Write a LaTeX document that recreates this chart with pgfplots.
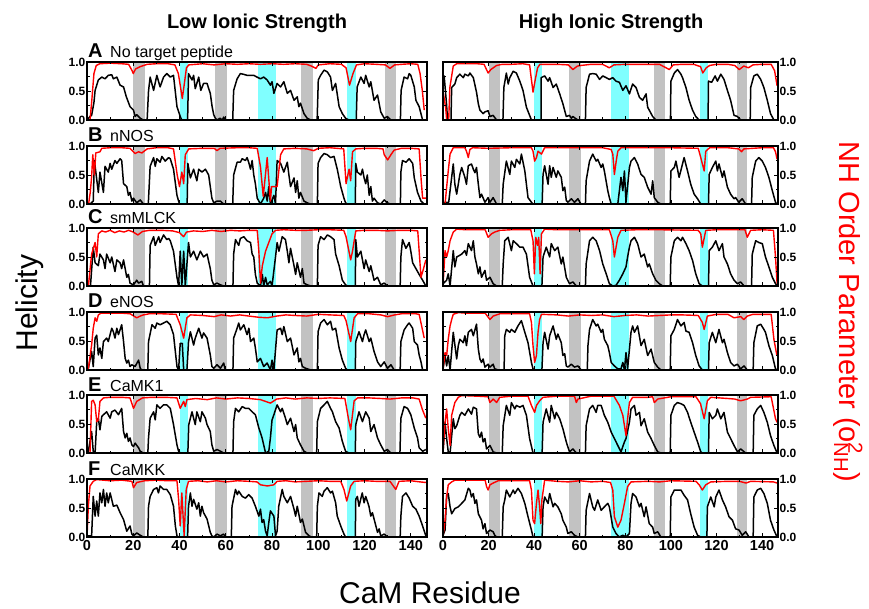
\documentclass[border=0pt]{standalone}
\usepackage{fontspec}
\setmainfont{Liberation Sans}
\usepackage{pgfplots}
\pgfplotsset{compat=1.18}
\definecolor{cyanband}{RGB}{128,255,255}
\definecolor{greyband}{RGB}{194,194,194}
\pgfplotsset{
 panel/.style={scale only axis, height=58pt, xmin=0, xmax=147, ymin=0, ymax=1,
   xtick={0,20,...,140}, minor xtick={10,30,...,130}, ytick={0,0.5,1}, minor ytick={0.25,0.75},
   tick align=inside, major tick length=4pt, minor tick length=2.5pt,
   tick style={black, line width=0.8pt},
   axis line style={line width=1.4pt},
   axis on top,
   /pgf/number format/assume math mode=true,
   yticklabel style={font=\bfseries\fontsize{12}{13}\selectfont, /pgf/number format/fixed, /pgf/number format/fixed zerofill, /pgf/number format/precision=1, inner sep=1.5pt},
   xticklabel style={font=\bfseries\fontsize{14.5}{15}\selectfont},
 },
 leftp/.style={panel, width=340pt, yticklabel pos=left},
 rightp/.style={panel, width=335pt, yticklabel pos=right},
 nox/.style={xticklabels={}},
 hel/.style={black, line width=1.5pt, no markers, line join=round},
 nh/.style={red, line width=1.4pt, no markers, line join=round},
}
\newcommand\bands{%
 \addplot[draw=none, fill=greyband, forget plot] coordinates {(20,0)(20,1)(25,1)(25,0)};
 \addplot[draw=none, fill=greyband, forget plot] coordinates {(55.5,0)(55.5,1)(60.5,1)(60.5,0)};
 \addplot[draw=none, fill=greyband, forget plot] coordinates {(92.5,0)(92.5,1)(97.5,1)(97.5,0)};
 \addplot[draw=none, fill=greyband, forget plot] coordinates {(129,0)(129,1)(133.5,1)(133.5,0)};
 \addplot[draw=none, fill=cyanband, forget plot] coordinates {(40,0)(40,1)(43.6,1)(43.6,0)};
 \addplot[draw=none, fill=cyanband, forget plot] coordinates {(73.8,0)(73.8,1)(81.6,1)(81.6,0)};
 \addplot[draw=none, fill=cyanband, forget plot] coordinates {(112.6,0)(112.6,1)(116.2,1)(116.2,0)};
}
\newcommand\plabel[3]{%
 \node[anchor=base west, inner sep=0pt, font=\bfseries\fontsize{20}{20}\selectfont] at (88pt,#1) {#2};
 \node[anchor=base west, inner sep=0pt, font=\fontsize{16}{16}\selectfont] at (110pt,#1) {#3};
}
\begin{document}
\begin{tikzpicture}
\path[use as bounding box] (0,0) rectangle (869pt,-609pt);
\node[anchor=base, font=\bfseries\fontsize{20}{20}\selectfont] at (257pt,-29pt) {Low Ionic Strength};
\node[anchor=base, font=\bfseries\fontsize{20}{20}\selectfont] at (611pt,-29pt) {High Ionic Strength};
\node[rotate=90, font=\fontsize{30}{30}\selectfont] at (30pt,-303pt) {Helicity};
\node[rotate=-90, text=red, font=\fontsize{29}{29}\selectfont] at (848pt,-312pt) {NH Order Parameter (o\rlap{\textsuperscript{2}}\textsubscript{NH})};
\node[anchor=base, font=\fontsize{30}{30}\selectfont] at (430pt,-603pt) {CaM Residue};
\plabel{-58pt}{A}{No target peptide}
\plabel{-142pt}{B}{nNOS}
\plabel{-224pt}{C}{smMLCK}
\plabel{-308pt}{D}{eNOS}
\plabel{-391pt}{E}{CaMK1}
\plabel{-475pt}{F}{CaMKK}

% ---------------- A left
\begin{axis}[leftp, nox, at={(87pt,-62pt)}, anchor=north west]
\bands
\addplot[hel] coordinates {(0,0)(1.3,0.06)(2,0.08)(3,0.3)(3.5,0.51)(4.9,0.69)(6.4,0.74)(7.8,0.71)(9.2,0.77)(10.7,0.78)(11.4,0.71)(12.9,0.74)(14.3,0.6)(15.8,0.57)(17,0.4)(18.6,0.23)(20.1,0.17)(20.8,0.06)(21.5,0.09)(23,0.03)(24.4,0)(26,0)(26.6,0.5)(27.3,0.74)(28.8,0.51)(30.2,0.77)(31.6,0.57)(33.1,0.74)(34.5,0.8)(36,0.74)(37.4,0.77)(38.9,0.23)(40.3,0.06)(41,0)(43.5,0)(43.9,0.8)(45.4,0.69)(46.1,0.77)(46.8,0.54)(48.3,0.74)(49.2,0.51)(50.4,0.63)(51.9,0.63)(53.3,0.46)(54.1,0.23)(54.8,0.09)(55.5,0.03)(56.2,0)(57.5,0.03)(58.5,0)(59.1,0.05)(60,0)(63,0)(63.4,0.51)(64.9,0.71)(66.3,0.8)(67.5,0.79)(69.2,0.77)(70.5,0.77)(72.1,0.77)(73.5,0.74)(75,0.71)(76.4,0.74)(77.9,0.69)(79.3,0.6)(80,0.66)(80.8,0.46)(82.2,0.63)(83.7,0.57)(85.1,0.66)(86.6,0.46)(88,0.51)(89.5,0.34)(90.9,0.4)(91.6,0.23)(92.3,0.29)(93.8,0.11)(95.2,0.03)(96.7,0)(99.5,0)(100,0.69)(101,0.77)(102.5,0.86)(103.9,0.83)(105.3,0.74)(106.1,0.51)(107.5,0.63)(109,0.23)(110.4,0.11)(111.8,0.03)(113.3,0)(116.4,0)(116.8,0.57)(118.4,0.74)(119.8,0.63)(120.5,0.77)(122,0.57)(122.7,0.66)(124.1,0.34)(125.6,0.43)(127,0.14)(128.5,0.03)(129.9,0.06)(131.4,0)(135.5,0)(135.8,0.51)(137.1,0.74)(138.6,0.71)(139.3,0.8)(140,0.77)(141.5,0.57)(142.2,0.34)(143.6,0.23)(145.1,0)(146.5,0)};
\addplot[nh] coordinates {(0,0)(1.3,0)(2,0.3)(3,0.8)(4,0.94)(5.5,0.97)(10,0.98)(15,0.97)(18,0.96)(19.5,0.85)(20,0.8)(21,0.88)(23,0.92)(26,0.96)(30,0.97)(35,0.97)(38,0.95)(39.5,0.8)(40.5,0.55)(41.2,0.37)(42,0.6)(43,0.9)(44,0.95)(50,0.97)(55,0.95)(60,0.97)(65,0.96)(70,0.97)(75,0.96)(80,0.97)(85,0.96)(90,0.97)(95,0.96)(97,0.93)(99,0.89)(100,0.95)(105,0.97)(110,0.96)(112,0.9)(113.5,0.6)(115,0.8)(116.5,0.95)(120,0.97)(125,0.96)(129,0.95)(131,0.89)(133,0.95)(136,0.96)(140,0.97)(143,0.96)(144,0.8)(145,0.5)(145.8,0.17)};
\end{axis}
% ---------------- A right
\begin{axis}[rightp, nox, at={(443pt,-62pt)}, anchor=north west]
\bands
\addplot[hel] coordinates {(0,0.75)(0.5,0.76)(1.5,0.3)(2,0)(3.5,0)(3.8,0.56)(5.2,0.62)(6,0.73)(7.4,0.79)(8.9,0.73)(9.6,0.79)(11.1,0.76)(11.8,0.81)(13.3,0.73)(14.7,0.48)(15.5,0.28)(16.2,0.17)(17.6,0.11)(18.4,0.14)(19.8,0.16)(20.6,0.06)(22,0.08)(23.5,0)(26.3,0)(26.7,0.56)(27.8,0.81)(28.6,0.62)(29.3,0.73)(30.8,0.84)(32.2,0.81)(33.7,0.67)(35.1,0.51)(36.6,0.22)(38,0.08)(38.8,0)(43,0)(43.1,0.73)(44.6,0.76)(46.1,0.67)(46.8,0.73)(48.3,0.56)(49.7,0.62)(51.2,0.45)(52.6,0.28)(54.1,0.06)(55.5,0.08)(56.3,0.03)(57,0.06)(58,0.03)(59.2,0)(62.5,0)(62.8,0.56)(64.3,0.79)(65.7,0.8)(67.2,0.79)(68.7,0.7)(70.1,0.76)(71.6,0.73)(73,0.7)(74.5,0.73)(75.9,0.67)(77.4,0.65)(78.9,0.51)(80.3,0.59)(81.8,0.45)(83.2,0.62)(84.7,0.56)(86.2,0.39)(87.6,0.34)(89.1,0.45)(89.8,0.22)(90.5,0.17)(92,0.06)(93.4,0)(99.8,0)(100,0.67)(101.5,0.81)(102.9,0.87)(104.4,0.79)(105.1,0.73)(106.6,0.56)(108,0.34)(109.5,0.17)(110.9,0.06)(112.4,0)(116.3,0)(116.5,0.67)(117.9,0.65)(119.4,0.76)(120.4,0.67)(121.9,0.79)(123.3,0.7)(124.8,0.51)(126.2,0.34)(127.7,0.08)(129.2,0.06)(130.6,0)(134.8,0)(135,0.56)(136.4,0.76)(137.9,0.79)(139.4,0.7)(140.8,0.56)(142.3,0.34)(143.7,0.11)(145.2,0)(146.5,0)};
\addplot[nh] coordinates {(0,0.5)(1.2,0.2)(1.6,0)(2.5,0)(3,0.56)(4.5,0.93)(6,0.97)(10,0.97)(15,0.97)(18,0.96)(19.8,0.81)(21,0.87)(23.5,0.94)(26,0.96)(30,0.96)(35,0.97)(38,0.95)(38.5,0.79)(39.5,0.48)(40.5,0.7)(41.5,0.9)(42.5,0.96)(50,0.96)(55,0.95)(57,0.87)(59,0.93)(60.5,0.94)(65,0.96)(70,0.96)(73,0.9)(75,0.95)(80,0.96)(85,0.96)(90,0.96)(95,0.96)(99.3,0.87)(101,0.95)(105,0.96)(110,0.96)(113,0.92)(114,0.81)(115.5,0.9)(117,0.94)(120,0.96)(125,0.96)(128,0.94)(130,0.87)(132,0.93)(134,0.9)(136,0.95)(140,0.96)(144,0.96)(145.5,0.85)(146.6,0.59)};
\end{axis}
% ---------------- B left
\begin{axis}[leftp, nox, at={(87pt,-146pt)}, anchor=north west]
\bands
\addplot[hel] coordinates {(0,0)(1.3,0)(2.7,0.05)(3.2,0.75)(4.9,0.2)(5.6,0.55)(7.1,0.2)(7.8,0.65)(9.2,0.55)(10,0.7)(10.7,0.6)(12.1,0.75)(12.9,0.7)(14.3,0.78)(15,0.75)(15.8,0.35)(17.2,0.3)(17.9,0.15)(18.6,0.2)(19.4,0.05)(20.1,0.1)(21.5,0.02)(23,0.07)(24.4,0)(26.5,0)(27.3,0.65)(28.8,0.8)(29.5,0.65)(30.2,0.78)(31.6,0.72)(32.4,0.82)(33.8,0.74)(35.3,0.8)(36,0.78)(37.4,0.6)(38.9,0.15)(39.6,0.05)(40,0)(43.3,0)(43.6,0.7)(44.7,0.45)(46.1,0.6)(47.5,0.4)(48.3,0.6)(49.7,0.55)(51.2,0.6)(52.6,0.5)(53.3,0.3)(54,0.1)(54.8,0.02)(56.2,0.05)(57.7,0.05)(59,0)(63,0)(63.4,0.5)(64.9,0.72)(66.3,0.72)(67.1,0.78)(68.5,0.75)(69.2,0.8)(69.9,0.72)(70.7,0.6)(71.4,0.75)(72.1,0.5)(72.8,0.35)(73.6,0.1)(75,0)(76.4,0.1)(77.2,0.2)(77.9,0.05)(78.6,0.3)(79.3,0)(80.8,0.15)(81.5,0)(82.2,0.75)(83.7,0.7)(85.1,0.55)(86.6,0.72)(87.3,0.5)(88,0.3)(89.5,0.45)(90.2,0.2)(90.9,0.4)(91.6,0.1)(92.3,0.2)(93.8,0.05)(95.2,0.02)(96.5,0)(99.6,0)(99.9,0.7)(101,0.8)(102.5,0.87)(103.9,0.85)(105.3,0.8)(106.8,0.82)(108.2,0.6)(109.7,0.3)(111.1,0.1)(111.8,0.02)(112.5,0)(116,0)(116.2,0.7)(116.9,0.55)(118.4,0.5)(119.1,0.6)(119.8,0.45)(120.5,0.35)(121.2,0.5)(122,0.15)(122.7,0.3)(123.4,0.05)(124.1,0.1)(125.6,0.02)(127,0)(128.5,0.07)(129.9,0.02)(131,0)(135.5,0)(135.7,0.55)(136.4,0.75)(137.9,0.72)(139.3,0.78)(140.8,0.7)(141.5,0.45)(142.9,0.2)(144.4,0.05)(145.8,0)(146.5,0)};
\addplot[nh] coordinates {(0,0)(0.7,0)(1.4,0.2)(2,0.47)(2.5,0.85)(3.2,0.5)(3.8,0.88)(5.6,0.9)(6.4,0.96)(10,0.97)(15,0.97)(18.6,0.96)(20.8,0.87)(22.3,0.9)(23.7,0.88)(26,0.95)(30,0.97)(35,0.97)(37.4,0.95)(39,0.5)(40,0.3)(41,0.55)(41.8,0.35)(42.5,0.85)(44,0.95)(50,0.96)(55,0.96)(56.2,0.92)(57.5,0.96)(65,0.97)(70,0.97)(73.6,0.96)(75,0.64)(76.2,0.13)(77.9,0.8)(79.3,0.05)(79.8,0.3)(82.2,0.3)(83.7,0.85)(85.1,0.95)(90,0.96)(95,0.95)(98,0.92)(100,0.96)(105,0.97)(111,0.95)(112,0.35)(113.3,0.6)(114,0.4)(114.8,0.9)(116.2,0.95)(120,0.96)(125,0.96)(128,0.95)(128.5,0.85)(130,0.76)(131.4,0.85)(132.8,0.93)(136,0.96)(140,0.96)(143.6,0.95)(144.5,0.4)(145.1,0.1)(146.5,0.1)};
\end{axis}
% ---------------- B right
\begin{axis}[rightp, nox, at={(443pt,-146pt)}, anchor=north west]
\bands
\addplot[hel] coordinates {(0,0)(0.9,0.03)(2.5,0.03)(3.1,0.23)(4.5,0.69)(5.2,0.34)(6,0.17)(7.4,0.51)(8.2,0.63)(9.6,0.46)(10.3,0.34)(11.1,0.66)(12.5,0.69)(13.3,0.6)(14,0.54)(14.7,0.63)(15.5,0.34)(16.2,0.11)(16.9,0.17)(18.4,0.03)(19.8,0.11)(20.6,0.03)(22,0.11)(23.5,0)(26,0)(26.4,0.34)(27.8,0.74)(29.3,0.51)(30,0.74)(31.5,0.63)(32.2,0.77)(33.7,0.69)(34.4,0.86)(35.9,0.57)(37.3,0.11)(38.8,0.03)(39.5,0)(43.5,0)(43.9,0.51)(44.6,0.66)(46.1,0.34)(46.8,0.66)(47.5,0.46)(48.3,0.63)(49.7,0.46)(50.4,0.57)(51.9,0.46)(52.6,0.23)(53.4,0.29)(54.1,0.06)(54.8,0.03)(56.3,0.09)(57.7,0.03)(59.2,0.09)(60.5,0)(62.5,0)(62.8,0.4)(64.3,0.74)(65.7,0.86)(67.2,0.74)(67.9,0.77)(69.4,0.63)(70.1,0.69)(70.8,0.57)(72.3,0.23)(73,0.11)(73.8,0)(76.7,0)(77.4,0.23)(78.1,0.46)(78.9,0.23)(79.6,0.57)(80.3,0.03)(81.8,0.63)(82.5,0.74)(84,0.8)(85.4,0.69)(86.9,0.51)(88.3,0.46)(89.8,0.29)(91.3,0.17)(92,0.4)(92.7,0.11)(94.2,0.03)(95.6,0)(99.7,0)(100,0.57)(101.5,0.63)(102.2,0.74)(103.6,0.46)(105.1,0.69)(105.8,0.8)(107.3,0.57)(108.7,0.34)(110.2,0.17)(111.7,0.09)(113.1,0)(116.5,0)(116.8,0.51)(118.2,0.63)(119.7,0.74)(120.4,0.57)(121.1,0.69)(122.6,0.46)(123.3,0.57)(124.8,0.29)(126.2,0.17)(127.7,0.09)(128.4,0.11)(129.8,0.03)(131.3,0.09)(132.8,0)(135.4,0)(135.7,0.46)(137.2,0.74)(138.6,0.8)(140.1,0.74)(141.5,0.63)(143,0.46)(144.5,0.23)(145.9,0.03)(146.5,0)};
\addplot[nh] coordinates {(0,0)(0.9,0)(1.6,0.29)(2.3,0.57)(3.1,0.86)(4.5,0.97)(9.6,0.97)(10.3,0.91)(11.1,0.8)(11.8,0.94)(13,0.97)(20,0.96)(30,0.97)(38.8,0.97)(39.5,0.91)(40.2,0.74)(41,0.8)(41.7,0.91)(43.2,0.86)(44.6,0.97)(50,0.97)(60,0.97)(70,0.97)(73.8,0.94)(74.5,0.86)(75.2,0.51)(76,0.74)(76.7,0.91)(78.1,0.97)(90,0.97)(100,0.97)(112,0.96)(113.1,0.8)(114.6,0.57)(115.3,0.91)(117,0.97)(125,0.97)(129.8,0.95)(131,0.9)(132,0.95)(140,0.97)(145,0.97)(145.9,0.9)(146.6,0.77)};
\end{axis}
% ---------------- C left
\begin{axis}[leftp, nox, at={(87pt,-228pt)}, anchor=north west]
\bands
\addplot[hel] coordinates {(0,0)(1.5,0)(2.7,0.67)(3.5,0.4)(4.9,0.35)(5.6,0.55)(7.1,0.45)(7.8,0.3)(8.5,0.55)(10,0.4)(10.7,0.5)(12.1,0.25)(12.9,0.45)(14.3,0.4)(15,0.3)(15.8,0.45)(17.2,0.15)(17.9,0.2)(18.6,0.05)(20.1,0.02)(21.5,0.1)(22.3,0.05)(23.7,0.08)(24.4,0)(27,0)(27.3,0.7)(28.8,0.85)(29.5,0.7)(31,0.85)(31.6,0.75)(33.1,0.88)(34.5,0.8)(35.3,0.82)(36,0.78)(37.4,0.6)(38.9,0.15)(39.6,0)(40.3,0.6)(41,0)(41.8,0.6)(42.5,0)(43.9,0.75)(44.7,0.5)(46.1,0.6)(47.5,0.45)(49,0.6)(50.4,0.5)(51.9,0.55)(53.3,0.3)(54,0.1)(54.8,0.02)(56.2,0.05)(57.7,0.02)(59.1,0)(63.1,0)(63.4,0.55)(64.2,0.8)(65.6,0.7)(66.3,0.82)(67.8,0.85)(69.2,0.78)(70.7,0.75)(71.4,0.55)(72.1,0.5)(72.8,0.2)(73.6,0.05)(75,0)(75.8,0.2)(76.4,0)(77.2,0.15)(77.9,0.02)(79.3,0.08)(80,0)(81.5,0.5)(82.2,0.75)(83,0.6)(84.4,0.85)(85.8,0.8)(86.6,0.6)(87.3,0.4)(88,0.65)(89.5,0.35)(90.2,0.2)(90.9,0.4)(92.3,0.15)(93.1,0.3)(93.8,0.05)(95.2,0.02)(96.7,0)(99.6,0)(99.9,0.7)(101,0.85)(102.5,0.8)(103.9,0.88)(105.3,0.85)(106.8,0.8)(107.5,0.55)(109,0.35)(110.4,0.1)(111.8,0.02)(112.6,0)(116,0)(116.2,0.8)(116.9,0.5)(118.4,0.6)(119.8,0.3)(120.5,0.45)(122,0.25)(122.7,0.35)(124.1,0.1)(125.6,0.15)(127,0.02)(128.5,0.05)(129.9,0)(135.4,0)(135.7,0.5)(136.4,0.8)(137.9,0.65)(139.3,0.75)(140,0.6)(140.8,0.4)(142.2,0.3)(143.6,0.2)(145.1,0.1)(146.5,0)};
\addplot[nh] coordinates {(0,0)(0.6,0)(2,0.55)(3.5,0.75)(4.2,0.5)(4.9,0.9)(6.4,0.95)(8,0.93)(10,0.96)(12,0.92)(14,0.95)(16,0.93)(18,0.96)(20,0.93)(22,0.88)(24,0.94)(27,0.96)(32,0.96)(37,0.95)(40,0.92)(41.8,0.85)(43,0.93)(46,0.95)(50,0.94)(54,0.96)(58,0.94)(62,0.96)(66,0.95)(70,0.96)(73.6,0.96)(74.3,0.6)(75,0.05)(75.8,0.35)(77.2,0.6)(78.6,0.75)(80,0.9)(81.5,0.96)(85,0.97)(90,0.96)(95,0.96)(100,0.97)(105,0.97)(111,0.96)(112,0.85)(114,0.45)(114.8,0.6)(116.2,0.95)(120,0.96)(125,0.96)(130,0.95)(135,0.96)(140,0.96)(143,0.95)(144.4,0.15)(145.5,0.3)(146.5,0.45)};
\end{axis}
% ---------------- C right
\begin{axis}[rightp, nox, at={(443pt,-228pt)}, anchor=north west]
\bands
\addplot[hel] coordinates {(0,0.04)(1.6,0.1)(2.3,0.21)(3.1,0)(4.5,0.61)(5.2,0.33)(6,0.5)(7.4,0.53)(8.2,0.55)(9.6,0.61)(10.3,0.53)(11.1,0.73)(12.5,0.61)(13.3,0.78)(14,0.5)(14.7,0.38)(15.5,0.21)(16.2,0.33)(16.9,0.15)(18.4,0.27)(19.1,0.1)(20.6,0.15)(22,0.04)(23.5,0)(26,0)(26.4,0.38)(27.1,0.78)(28.6,0.84)(30,0.61)(30.8,0.78)(32.2,0.73)(33.7,0.67)(35.1,0.67)(36.6,0.55)(38,0.15)(39.5,0)(43.4,0)(43.9,0.5)(45.3,0.67)(46.8,0.5)(47.5,0.73)(49,0.61)(50.4,0.67)(51.9,0.38)(52.6,0.5)(54.1,0.15)(55.5,0.04)(57,0.07)(58.5,0)(62.5,0)(62.8,0.38)(64.3,0.78)(65.7,0.84)(67.2,0.78)(68.7,0.61)(70.1,0.38)(71.6,0.21)(73,0.04)(74.5,0)(75.9,0.01)(77.4,0.1)(78.9,0.21)(80.3,0.33)(81,0.5)(81.8,0.67)(82.5,0.78)(84,0.84)(85.4,0.73)(86.9,0.5)(88.3,0.55)(89.8,0.33)(90.5,0.38)(92,0.21)(93.4,0.1)(94.9,0.04)(96.4,0)(99.7,0)(100,0.5)(101.5,0.78)(102.9,0.84)(104.4,0.78)(105.1,0.84)(106.6,0.73)(108,0.61)(109.5,0.44)(110.9,0.21)(112.4,0.04)(113.8,0)(116.5,0)(116.8,0.61)(118.2,0.67)(119.7,0.78)(121.1,0.61)(122.6,0.73)(123.3,0.5)(124.8,0.38)(126.2,0.21)(127.7,0.1)(129.2,0.04)(130.6,0.07)(132.1,0)(135.4,0)(135.7,0.55)(137.2,0.78)(138.6,0.75)(140.1,0.73)(141.5,0.5)(143,0.33)(144.5,0.15)(145.9,0.04)(146.8,0)};
\addplot[nh] coordinates {(0,0)(0.9,0.61)(1.6,0.5)(2.3,0.61)(3.1,0.78)(4.5,0.93)(6,0.98)(10,0.97)(15,0.97)(18.5,0.97)(19.8,0.84)(21.3,0.9)(22.7,0.93)(25,0.96)(30,0.97)(38.5,0.97)(39.5,0.78)(40.1,0.21)(40.7,0.84)(41.5,0.7)(42,0.84)(42.6,0.21)(43.2,0.9)(44.6,0.98)(50,0.97)(60,0.97)(73,0.97)(74.5,0.78)(75.2,0.5)(76.7,0.84)(78.1,0.96)(85,0.97)(95,0.97)(112,0.96)(113.1,0.9)(113.8,0.67)(115.3,0.96)(120,0.97)(130,0.97)(132.5,0.97)(133.5,0.84)(135,0.96)(140,0.97)(145,0.96)(145.9,0.5)(146.6,0.04)};
\end{axis}
% ---------------- D left
\begin{axis}[leftp, nox, at={(87pt,-312pt)}, anchor=north west]
\bands
\addplot[hel] coordinates {(0,0)(0.6,0.03)(2,0.32)(2.7,0.06)(3.5,0.55)(4.2,0.6)(4.9,0.26)(5.6,0.38)(6.4,0.2)(7.1,0.49)(8.5,0.55)(9.2,0.49)(10.7,0.72)(11.4,0.66)(12.1,0.55)(12.9,0.72)(13.6,0.61)(15,0.78)(15.8,0.49)(16.5,0.2)(17.2,0.12)(17.9,0.17)(18.6,0.06)(19.4,0.09)(20.8,0.06)(22.3,0.17)(23,0.03)(23.7,0)(26.3,0)(26.6,0.49)(28.1,0.78)(29.5,0.72)(30.2,0.81)(31.6,0.78)(33.1,0.81)(34.5,0.84)(36,0.78)(37.4,0.61)(38.9,0.06)(39.6,0)(40.3,0.46)(41.2,0.46)(41.8,0)(43.2,0)(43.9,0.49)(44.7,0.66)(46.1,0.43)(46.8,0.55)(48.3,0.72)(49.7,0.55)(50.4,0.64)(51.9,0.55)(53.3,0.26)(54,0.06)(54.8,0.03)(56.2,0.09)(57.7,0.03)(59.1,0.12)(59.8,0)(63.1,0)(63.4,0.55)(64.9,0.72)(65.6,0.81)(66.3,0.69)(67.8,0.78)(69.2,0.61)(70,0.72)(70.7,0.49)(72.1,0.55)(72.8,0.38)(73.6,0.14)(75,0.2)(76.4,0.06)(77.9,0.12)(79.3,0)(80,0.17)(80.8,0)(82.2,0.69)(83.7,0.72)(84.4,0.61)(85.1,0.75)(86.6,0.49)(88,0.55)(89.5,0.26)(90.9,0.38)(91.6,0.14)(92.3,0.2)(93.1,0.06)(94.5,0.03)(96.7,0)(99.6,0)(99.9,0.66)(101,0.81)(102.5,0.87)(103.9,0.78)(105.3,0.84)(106.1,0.69)(107.5,0.72)(109,0.38)(110.4,0.17)(111.8,0.03)(112.6,0)(116,0)(116.2,0.49)(117.6,0.66)(119.1,0.49)(119.8,0.61)(120.5,0.69)(122,0.49)(122.7,0.55)(124.1,0.32)(125.6,0.14)(127,0.06)(128.5,0.14)(129.9,0.03)(131.4,0.09)(132.8,0)(135.4,0)(135.7,0.49)(137.1,0.69)(138.6,0.78)(139.3,0.81)(140.8,0.72)(141.5,0.49)(142.9,0.43)(143.6,0.26)(144.4,0.14)(145.1,0)(146.5,0)};
\addplot[nh] coordinates {(0,0)(0.6,0.03)(2,0.43)(2.7,0.72)(3.5,0.9)(4.2,0.84)(4.9,0.95)(6,0.98)(10,0.98)(15,0.98)(18.6,0.97)(21.5,0.9)(23,0.93)(24.4,0.95)(27,0.97)(32,0.97)(38.5,0.96)(40.3,0.78)(41.8,0.55)(43.2,0.9)(44.7,0.95)(50,0.94)(55,0.92)(58,0.95)(62,0.93)(66,0.95)(70,0.93)(74,0.91)(78,0.9)(82,0.93)(86,0.95)(90,0.94)(95,0.93)(100,0.96)(105,0.95)(111,0.94)(112,0.85)(114,0.49)(115.5,0.9)(117,0.97)(122,0.97)(127,0.95)(130,0.92)(133,0.95)(136,0.97)(142,0.97)(143.6,0.96)(145,0.7)(145.8,0.55)};
\end{axis}
% ---------------- D right
\begin{axis}[rightp, nox, at={(443pt,-312pt)}, anchor=north west]
\bands
\addplot[hel] coordinates {(0,0.02)(0.9,0.25)(1.6,0.07)(2.3,0.25)(3.1,0)(4.5,0.65)(6,0.19)(6.7,0.42)(7.4,0.53)(8.9,0.47)(9.6,0.59)(10.3,0.42)(11.1,0.65)(12.5,0.7)(13.3,0.59)(14.7,0.79)(15.5,0.36)(16.2,0.19)(16.9,0.13)(17.6,0.19)(18.4,0.05)(19.8,0.1)(20.6,0.05)(22,0.1)(22.7,0.02)(24.2,0)(26.8,0)(27.1,0.59)(27.8,0.7)(29.3,0.65)(30,0.7)(31.5,0.65)(32.9,0.76)(34.4,0.85)(35.9,0.65)(37.3,0.47)(38.8,0.13)(39.5,0.02)(40.2,0)(43.4,0)(43.9,0.47)(44.6,0.65)(46.1,0.36)(46.8,0.59)(48.3,0.76)(49.7,0.53)(50.4,0.62)(51.9,0.47)(52.6,0.25)(53.4,0.28)(54.1,0.07)(54.8,0.05)(56.3,0.1)(57.7,0.05)(59.2,0.07)(60.6,0)(63.3,0)(63.6,0.42)(64.3,0.7)(65.7,0.87)(67.2,0.76)(67.9,0.79)(69.4,0.65)(70.1,0.7)(70.8,0.53)(72.3,0.42)(73,0.3)(73.8,0.13)(75.2,0.07)(76.7,0.02)(78.1,0.02)(78.9,0.13)(79.6,0)(80.3,0.3)(81,0.02)(82.5,0.65)(83.2,0.76)(84,0.65)(85.4,0.76)(86.9,0.42)(88.3,0.53)(89.8,0.25)(91.3,0.36)(92.7,0.13)(94.2,0.05)(95.6,0)(99.7,0)(100,0.59)(101.5,0.7)(102.9,0.87)(104.4,0.76)(105.8,0.82)(106.6,0.67)(108,0.65)(109.5,0.47)(110.9,0.25)(112.4,0.07)(113.8,0)(116.5,0)(116.8,0.47)(118.2,0.65)(119.7,0.47)(121.1,0.7)(122.6,0.47)(123.3,0.53)(124.8,0.3)(126.2,0.13)(127.7,0.07)(129.2,0.1)(130.6,0.02)(132.1,0.07)(133.5,0)(136.1,0)(136.4,0.47)(137.9,0.76)(139.4,0.79)(140.8,0.7)(141.5,0.65)(143,0.42)(144.5,0.25)(145.9,0.02)(146.5,0)};
\addplot[nh] coordinates {(0,0)(0.9,0.3)(1.6,0.25)(2.3,0.53)(3.1,0.76)(3.8,0.87)(4.5,0.96)(6.7,0.99)(10,0.98)(18.5,0.98)(20.6,0.87)(22,0.93)(25,0.97)(35,0.97)(38,0.97)(38.8,0.82)(39.5,0.42)(40.2,0.13)(41,0.25)(41.7,0.65)(42.4,0.87)(43.2,0.96)(50,0.95)(55,0.93)(60,0.95)(65,0.94)(70,0.95)(75,0.92)(80,0.94)(85,0.95)(90,0.93)(95,0.94)(100,0.95)(105,0.95)(112,0.94)(113.8,0.82)(114.6,0.7)(116,0.93)(120,0.96)(125,0.96)(127.7,0.9)(130.6,0.92)(132,0.87)(133.5,0.93)(136,0.96)(144,0.96)(145.2,0.53)(146.5,0.25)};
\end{axis}
% ---------------- E left
\begin{axis}[leftp, nox, at={(87pt,-395pt)}, anchor=north west]
\bands
\addplot[hel] coordinates {(0,0)(0.6,0.03)(2,0.37)(2.7,0.03)(3.5,0)(4.2,0.54)(4.9,0.6)(5.6,0.4)(6.4,0.63)(7.1,0.66)(8.5,0.71)(10,0.6)(10.7,0.71)(12.1,0.74)(13.6,0.66)(15,0.77)(15.8,0.37)(16.5,0.26)(17.2,0.34)(17.9,0.2)(18.6,0.26)(19.4,0.14)(20.1,0.11)(20.8,0.17)(22.3,0.09)(23,0.03)(24.4,0)(26.3,0)(26.6,0.26)(27.3,0.6)(28.8,0.71)(29.5,0.57)(30.2,0.83)(31.6,0.77)(33.1,0.83)(34.5,0.83)(36,0.77)(37.4,0.49)(38.9,0.14)(39.6,0.03)(40.3,0)(43.6,0)(44,0.49)(45.4,0.71)(46.8,0.49)(47.5,0.71)(49,0.54)(49.7,0.71)(51.2,0.6)(51.9,0.49)(53.3,0.37)(54,0.14)(54.8,0.03)(56.2,0.06)(57.7,0.03)(59.1,0)(63.1,0)(63.4,0.54)(64.2,0.77)(65.6,0.71)(67.1,0.8)(68.5,0.77)(69.9,0.77)(71.4,0.71)(72.8,0.66)(74.3,0.43)(75.7,0.26)(77.2,0)(78.6,0.03)(79.3,0.26)(80,0.57)(80.8,0.66)(82.2,0.83)(83.7,0.71)(84.4,0.77)(85.8,0.6)(86.6,0.49)(88,0.6)(89.5,0.37)(90.2,0.49)(90.9,0.26)(92.3,0.14)(93.8,0.03)(95.2,0)(99.3,0)(99.6,0.54)(101,0.77)(102.5,0.83)(103.9,0.89)(105.3,0.77)(106.1,0.71)(107.5,0.54)(109,0.43)(110.4,0.2)(111.8,0.03)(113.3,0)(116,0)(116.2,0.49)(117.6,0.71)(119.1,0.54)(120.5,0.71)(122,0.6)(122.7,0.37)(124.1,0.49)(125.6,0.26)(127,0.14)(128.5,0.03)(129.9,0.06)(131.4,0)(135.3,0)(135.7,0.6)(137.1,0.8)(138.6,0.77)(140,0.66)(141.5,0.43)(142.9,0.26)(143.6,0.09)(145.1,0.03)(146.5,0.06)};
\addplot[nh] coordinates {(0,0)(1.3,0)(2,0.89)(2.7,0.91)(3.5,0.83)(4.2,0.54)(4.9,0.57)(5.6,0.89)(7.1,0.95)(10,0.96)(15,0.96)(18.6,0.95)(20.1,0.77)(21.5,0.89)(24,0.95)(28,0.96)(34,0.96)(38.9,0.95)(40.3,0.77)(41.8,0.89)(42.5,0.8)(43.2,0.92)(47,0.94)(52,0.92)(56,0.95)(60,0.93)(65,0.95)(70,0.94)(75,0.92)(79.3,0.86)(82,0.93)(86,0.95)(90,0.93)(95,0.95)(100,0.94)(105,0.95)(111.5,0.94)(113,0.6)(114,0.4)(115.5,0.9)(117,0.95)(122,0.95)(127,0.94)(131,0.93)(136,0.95)(141,0.95)(143.6,0.93)(145,0.75)(146.5,0.6)};
\end{axis}
% ---------------- E right
\begin{axis}[rightp, nox, at={(443pt,-395pt)}, anchor=north west]
\bands
\addplot[hel] coordinates {(0,0.02)(0.9,0.53)(1.6,0.25)(2.3,0.02)(3.1,0)(4.5,0.59)(5.2,0.42)(6,0.47)(7.4,0.65)(8.2,0.7)(9.6,0.65)(10.3,0.7)(11.1,0.76)(12.5,0.67)(13.3,0.79)(14.7,0.76)(15.5,0.33)(16.2,0.27)(16.9,0.36)(17.6,0.19)(18.4,0.25)(19.1,0.07)(20.6,0.13)(22,0.02)(23.5,0)(26,0)(26.4,0.47)(27.8,0.82)(29.3,0.65)(30,0.87)(31.5,0.76)(32.2,0.82)(33.7,0.79)(35.1,0.82)(36.6,0.65)(38,0.25)(39.5,0)(43.5,0)(43.9,0.53)(45.3,0.76)(46.8,0.53)(47.5,0.82)(49,0.59)(49.7,0.7)(51.2,0.59)(52.6,0.42)(54.1,0.19)(55.5,0.02)(57,0.07)(58.5,0)(62.5,0)(62.8,0.47)(64.3,0.76)(65.7,0.82)(67.2,0.7)(67.9,0.82)(69.4,0.82)(70.8,0.65)(72.3,0.53)(73.8,0.36)(75.2,0.25)(76.7,0.13)(78.1,0.02)(79.6,0.19)(80.3,0.25)(81.8,0.53)(82.5,0.76)(84,0.82)(84.7,0.65)(86.2,0.7)(86.9,0.47)(88.3,0.59)(89.8,0.36)(91.3,0.25)(92.7,0.13)(94.2,0.02)(95.6,0)(99.7,0)(100,0.65)(101.5,0.82)(102.9,0.87)(104.4,0.85)(105.8,0.82)(107.3,0.7)(108.7,0.53)(110.2,0.36)(111.7,0.19)(113.1,0.02)(113.8,0)(116.5,0)(116.8,0.7)(118.2,0.59)(119.7,0.65)(120.4,0.76)(121.9,0.59)(123.3,0.7)(124.8,0.36)(126.2,0.25)(127.7,0.13)(129.2,0.02)(130.6,0.07)(132.8,0)(136.1,0)(136.4,0.65)(137.9,0.76)(139.4,0.82)(140.8,0.7)(142.3,0.53)(143.7,0.3)(145.2,0.13)(146.6,0)};
\addplot[nh] coordinates {(0,0)(0.9,0.53)(1.6,0.76)(2.3,0.42)(3.1,0.13)(3.8,0.65)(5.2,0.87)(6.7,0.96)(8.2,0.99)(15,0.98)(19.8,0.97)(20.6,0.87)(22,0.93)(23.5,0.87)(24.9,0.96)(30,0.98)(37.3,0.98)(38.8,0.82)(40.2,0.7)(41,0.82)(42.4,0.9)(43.9,0.96)(50,0.98)(57.7,0.98)(58.5,0.87)(59.2,0.93)(65,0.98)(75,0.98)(77.4,0.82)(78.9,0.65)(80.3,0.3)(81,0.59)(81.8,0.87)(83.2,0.96)(90,0.96)(92,0.97)(92.7,0.87)(94.2,0.93)(100,0.97)(111,0.97)(113,0.85)(114.6,0.59)(116,0.9)(117.5,0.96)(125,0.94)(128,0.93)(130.6,0.9)(133.5,0.93)(135,0.96)(144,0.97)(145.9,0.59)(146.6,0.53)};
\end{axis}
% ---------------- F left
\begin{axis}[leftp, at={(87pt,-479pt)}, anchor=north west]
\bands
\addplot[hel] coordinates {(0,0)(0.6,0.02)(2,0.02)(2.7,0.7)(3.5,0.36)(4.2,0.62)(4.9,0.36)(5.6,0.76)(6.4,0.59)(7.1,0.82)(7.8,0.53)(8.5,0.76)(9.2,0.59)(10,0.76)(11.4,0.53)(12.9,0.55)(14.3,0.42)(15.8,0.3)(17.2,0.1)(18.6,0.19)(19.4,0.05)(20.1,0.02)(21.5,0.07)(23,0.03)(24.4,0)(26.3,0)(26.6,0.53)(27.3,0.7)(28.8,0.82)(30.2,0.85)(30.9,0.76)(31.6,0.88)(33.1,0.82)(34.5,0.82)(36,0.73)(37.4,0.53)(38.2,0.19)(38.9,0.02)(39.5,0)(43.5,0)(43.9,0.53)(44.7,0.76)(45.4,0.53)(46.1,0.65)(47.5,0.48)(48.3,0.59)(49,0.36)(49.7,0.53)(50.4,0.42)(51.9,0.31)(53.3,0.08)(54,0.02)(54.8,0)(56.2,0.05)(57.7,0.02)(59,0.05)(60,0)(62.4,0)(62.7,0.53)(64.2,0.82)(65,0.73)(65.6,0.79)(67.1,0.7)(68.5,0.67)(69.9,0.73)(71.4,0.67)(72.8,0.53)(74.3,0.36)(75,0.48)(75.7,0.25)(76.4,0.3)(77.2,0.1)(77.9,0.02)(78.6,0.25)(79.3,0.45)(80.8,0.36)(81.5,0.02)(82.2,0.1)(82.9,0.53)(84.4,0.82)(85.1,0.7)(86.6,0.59)(88,0.7)(89.5,0.48)(90.2,0.36)(90.9,0.53)(92.3,0.25)(93.1,0.31)(94.5,0.08)(96,0.02)(97,0)(99.3,0)(99.6,0.53)(100.3,0.76)(101.7,0.7)(102.5,0.79)(103.9,0.85)(105.3,0.76)(106.1,0.79)(107.5,0.59)(108.2,0.36)(109.7,0.19)(111.1,0.05)(111.8,0)(116,0)(116.2,0.65)(116.9,0.7)(117.6,0.53)(119,0.76)(119.8,0.59)(120.5,0.7)(121.9,0.53)(122.7,0.36)(123.4,0.42)(124.9,0.19)(125.6,0.08)(126.3,0.14)(127,0.02)(128.5,0.05)(129.9,0)(135.4,0)(135.7,0.36)(136.4,0.7)(137.9,0.76)(139.3,0.67)(140.8,0.53)(142.2,0.48)(143.6,0.36)(145.1,0.19)(146.5,0.02)};
\addplot[nh] coordinates {(0,0)(0.6,0.54)(1.3,0.88)(2.7,0.96)(4.2,0.99)(10,0.97)(15,0.98)(19.4,0.96)(20.1,0.85)(21.5,0.94)(25,0.97)(30,0.98)(35,0.97)(38.9,0.97)(39.6,0.65)(40.3,0.19)(41,0.76)(42,0.02)(42.9,0.82)(43.9,0.96)(48,0.97)(52,0.95)(56,0.97)(60,0.95)(65,0.97)(70,0.96)(73.5,0.95)(75,0.9)(78,0.88)(80.8,0.9)(82.2,0.96)(86,0.97)(90,0.95)(95,0.96)(100,0.97)(105,0.96)(109.7,0.96)(111.1,0.82)(112.3,0.62)(114,0.88)(115.5,0.96)(120,0.97)(125,0.96)(131,0.96)(133.5,0.82)(134.9,0.96)(140,0.97)(144,0.95)(146.5,0.94)};
\end{axis}
% ---------------- F right
\begin{axis}[rightp, at={(443pt,-479pt)}, anchor=north west]
\bands
\addplot[hel] coordinates {(0,0.03)(0.9,0.12)(1.6,0.72)(2.3,0.75)(3.1,0.52)(3.8,0.4)(5.2,0.49)(6.7,0.52)(8.2,0.58)(9.6,0.64)(11.1,0.84)(11.8,0.81)(12.5,0.69)(13.3,0.75)(14,0.58)(14.7,0.64)(15.5,0.4)(16.9,0.29)(17.6,0.14)(18.4,0.23)(19.1,0.06)(20.6,0.12)(22,0.09)(22.7,0.03)(23.5,0)(26,0)(26.4,0.52)(27.1,0.64)(27.8,0.81)(29.3,0.69)(30.8,0.81)(31.5,0.75)(32.9,0.84)(34.4,0.75)(35.9,0.58)(37.3,0.35)(38.8,0.12)(39.5,0)(43.5,0)(43.9,0.52)(44.6,0.69)(46.1,0.58)(46.8,0.75)(48.3,0.52)(49,0.58)(50.4,0.52)(51.9,0.4)(52.6,0.29)(54.1,0.17)(54.8,0.06)(56.3,0.09)(57.7,0.03)(59.2,0)(62.5,0)(62.8,0.46)(64.3,0.75)(65.7,0.52)(66.5,0.46)(67.9,0.64)(69.4,0.46)(70.8,0.52)(72.3,0.58)(73,0.52)(74.5,0.17)(75.9,0.06)(77.4,0)(78.9,0.03)(80.3,0)(81.8,0.06)(82.5,0.58)(83.2,0.75)(84.7,0.69)(86.2,0.52)(86.9,0.58)(88.3,0.35)(89.1,0.52)(90.5,0.23)(92,0.17)(92.7,0.06)(94.2,0.09)(95.6,0)(99.7,0)(100,0.69)(101.5,0.81)(102.9,0.81)(104.4,0.81)(105.8,0.72)(107.3,0.64)(108.7,0.4)(110.2,0.17)(111.7,0.03)(113.1,0)(115.8,0)(116,0.52)(117.5,0.69)(119,0.52)(119.7,0.69)(121.1,0.81)(122.6,0.64)(124,0.52)(125.5,0.35)(127,0.29)(128.4,0.14)(129.9,0.12)(131.3,0.03)(132.8,0.09)(134.3,0)(136.1,0)(136.4,0.69)(137.9,0.81)(139.4,0.84)(140.8,0.75)(142.3,0.58)(143.7,0.29)(145.2,0.12)(146.6,0)};
\addplot[nh] coordinates {(0,0)(0.9,0.29)(1.6,0.69)(2.3,0.9)(3.8,0.95)(5.2,0.98)(10,0.98)(18.5,0.98)(19.1,0.87)(19.8,0.81)(20.6,0.9)(22,0.93)(24.2,0.97)(30,0.97)(38,0.97)(38.8,0.81)(39.5,0.29)(40.2,0.23)(41,0.58)(41.7,0.81)(42.4,0.52)(42.9,0.23)(43.4,0.64)(44.6,0.98)(50,0.96)(55,0.95)(60,0.97)(65,0.95)(70,0.96)(73.5,0.94)(74.5,0.81)(75.2,0.35)(76.7,0.17)(78.1,0.29)(79.6,0.58)(81,0.87)(82.5,0.95)(90,0.96)(95,0.95)(100,0.97)(111,0.96)(112.4,0.9)(113.8,0.81)(115.3,0.9)(117.5,0.95)(125,0.96)(130,0.96)(133,0.93)(135,0.96)(145,0.95)(146.6,0.93)};
\end{axis}
\end{tikzpicture}
\end{document}
